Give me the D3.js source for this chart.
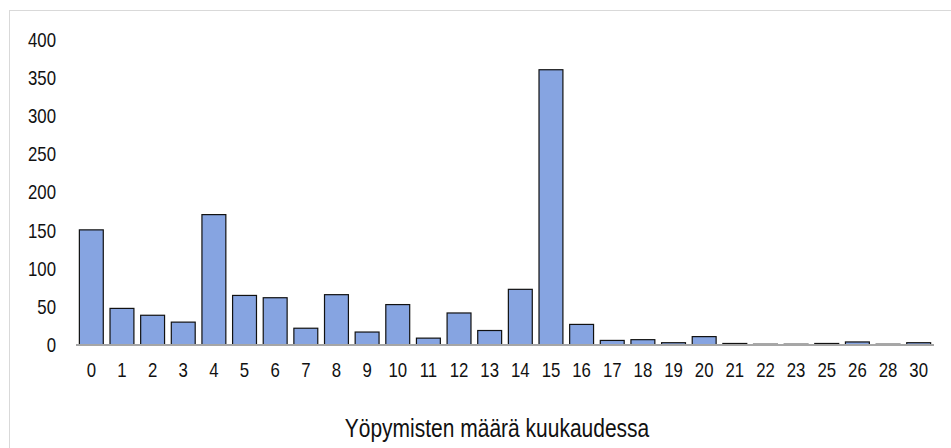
<!DOCTYPE html>
<html>
<head>
    <meta charset="utf-8">
    <script src="https://cdn.jsdelivr.net/npm/d3@7"></script>
    <style>
        body { margin: 0; background: #fff; }
        text { font-family: "Liberation Sans", Arial, sans-serif; fill: #111; }
    </style>
</head>
<body>
    <svg width="951" height="448"></svg>
    <script>
        // nights per month and count of respondents
        var categories = ["0", "1", "2", "3", "4", "5", "6", "7", "8", "9", "10", "11", "12", "13", "14", "15",
            "16", "17", "18", "19", "20", "21", "22", "23", "25", "26", "28", "30"];
        var counts = [151, 48, 39, 30, 171, 65, 62, 22, 66, 17, 53, 9, 42, 19, 73, 361,
            27, 6, 7, 3, 11, 2, 1, 1, 2, 4, 1, 3];
        var yTicks = [0, 50, 100, 150, 200, 250, 300, 350, 400];
        var xTitle = "Yöpymisten määrä kuukaudessa";

        // no narrow font installed, so squeeze the sans horizontally
        var narrow = "scale(0.84,1)";

        var svg = d3.select("svg");

        // outer frame
        svg.append("rect")
            .attr("x", 9.5).attr("y", 10.5)
            .attr("width", 950).attr("height", 450)
            .attr("fill", "none")
            .attr("stroke", "#d9d9d9");

        var x = d3.scaleBand()
            .domain(categories)
            .range([76, 934])
            .paddingInner(0.22)
            .paddingOuter(0.11);

        var y = d3.scaleLinear()
            .domain([0, 400])
            .range([345, 40]);

        // y labels, no axis line
        var yAxis = svg.append("g")
            .attr("transform", "translate(56,0)")
            .call(d3.axisLeft(y).tickValues(yTicks).tickSize(0).tickPadding(0));
        yAxis.select(".domain").remove();
        yAxis.selectAll(".tick text")
            .style("font-size", "20px")
            .attr("fill", "#111")
            .attr("transform", narrow);

        // bars
        svg.append("g").selectAll("rect")
            .data(counts)
            .enter().append("rect")
            .attr("x", function(d, i) { return x(categories[i]); })
            .attr("y", function(d) { return y(d); })
            .attr("width", x.bandwidth())
            .attr("height", function(d) { return y(0) - y(d); })
            .attr("fill", "#86a4e1")
            .attr("stroke", "#111")
            .attr("stroke-width", 1.2);

        // x axis
        var xAxis = svg.append("g")
            .attr("transform", "translate(0," + y(0) + ")")
            .call(d3.axisBottom(x).tickSize(0).tickPadding(18));
        xAxis.select(".domain")
            .attr("stroke", "#a6a6a6")
            .attr("stroke-width", 2)
            .attr("d", "M76,0H934");
        xAxis.selectAll(".tick text")
            .style("font-size", "20px")
            .attr("fill", "#111")
            .attr("transform", narrow);

        svg.append("text")
            .attr("transform", "translate(497,437) " + narrow)
            .attr("text-anchor", "middle")
            .style("font-size", "25px")
            .text(xTitle);
    </script>
</body>
</html>
